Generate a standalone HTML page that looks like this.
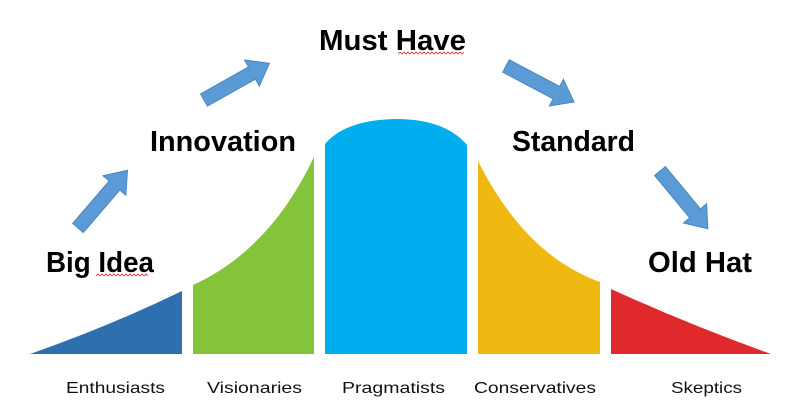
<!DOCTYPE html>
<html><head><meta charset="utf-8"><style>html,body{margin:0;padding:0;background:#fff}svg{display:block}</style></head>
<body>
<svg width="812" height="415" viewBox="0 0 812 415" xmlns="http://www.w3.org/2000/svg">
<rect width="812" height="415" fill="#fff"/>
<path d="M30,354 Q110,326 182,291 L182,354 Z" fill="#2e6fb0"/>
<path d="M193,285 Q270,250 314,157 L314,354 L193,354 Z" fill="#83c43a"/>
<path d="M325,144 Q345,120 396,119 Q445,119 467,145 L467,354 L325,354 Z" fill="#00aeef"/>
<path d="M478,161 Q525,255 600,282 L600,354 L478,354 Z" fill="#f0b912"/>
<path d="M611,289 Q690,325 771,354 L611,354 Z" fill="#e0292b"/>
<g fill="#5b9bd5" stroke="#4a86c0" stroke-width="1">
<g transform="translate(78,228) rotate(-49.4)"><polygon points="0,-7 56,-7 56,-15 76,0 56,15 56,7 0,7"/></g>
<g transform="translate(204,100) rotate(-29.3)"><polygon points="0,-7 55,-7 55,-15 75,0 55,15 55,7 0,7"/></g>
<g transform="translate(506,66) rotate(27.9)"><polygon points="0,-7 57,-7 57,-15 77,0 57,15 57,7 0,7"/></g>
<g transform="translate(660,171) rotate(50.4)"><polygon points="0,-7 55,-7 55,-15 75,0 55,15 55,7 0,7"/></g>
</g>
<g font-family="Liberation Sans, sans-serif" font-weight="bold" font-size="29" fill="#000">
<text x="46" y="272" textLength="108" lengthAdjust="spacingAndGlyphs">Big Idea</text>
<text x="150" y="151" textLength="146" lengthAdjust="spacingAndGlyphs">Innovation</text>
<text x="319" y="50" textLength="147" lengthAdjust="spacingAndGlyphs">Must Have</text>
<text x="512" y="151" textLength="123" lengthAdjust="spacingAndGlyphs">Standard</text>
<text x="648" y="272" textLength="104" lengthAdjust="spacingAndGlyphs">Old Hat</text>
</g>
<path d="M96,276 l2,-2 l2,2 l2,-2 l2,2 l2,-2 l2,2 l2,-2 l2,2 l2,-2 l2,2 l2,-2 l2,2 l2,-2 l2,2 l2,-2 l2,2 l2,-2 l2,2 l2,-2 l2,2 l2,-2 l2,2 l2,-2 l2,2 l2,-2 l2,2" fill="none" stroke="#e03030" stroke-width="0.8"/>
<path d="M398,54 l2,-2 l2,2 l2,-2 l2,2 l2,-2 l2,2 l2,-2 l2,2 l2,-2 l2,2 l2,-2 l2,2 l2,-2 l2,2 l2,-2 l2,2 l2,-2 l2,2 l2,-2 l2,2 l2,-2 l2,2 l2,-2 l2,2 l2,-2 l2,2 l2,-2 l2,2 l2,-2 l2,2 l2,-2 l2,2 l2,-2" fill="none" stroke="#e03030" stroke-width="0.8"/>
<g font-family="Liberation Sans, sans-serif" font-size="16" fill="#111">
<text x="66" y="393" textLength="99" lengthAdjust="spacingAndGlyphs">Enthusiasts</text>
<text x="207" y="393" textLength="95" lengthAdjust="spacingAndGlyphs">Visionaries</text>
<text x="342" y="393" textLength="103" lengthAdjust="spacingAndGlyphs">Pragmatists</text>
<text x="474" y="393" textLength="122" lengthAdjust="spacingAndGlyphs">Conservatives</text>
<text x="671" y="393" textLength="71" lengthAdjust="spacingAndGlyphs">Skeptics</text>
</g>
</svg>
</body></html>
